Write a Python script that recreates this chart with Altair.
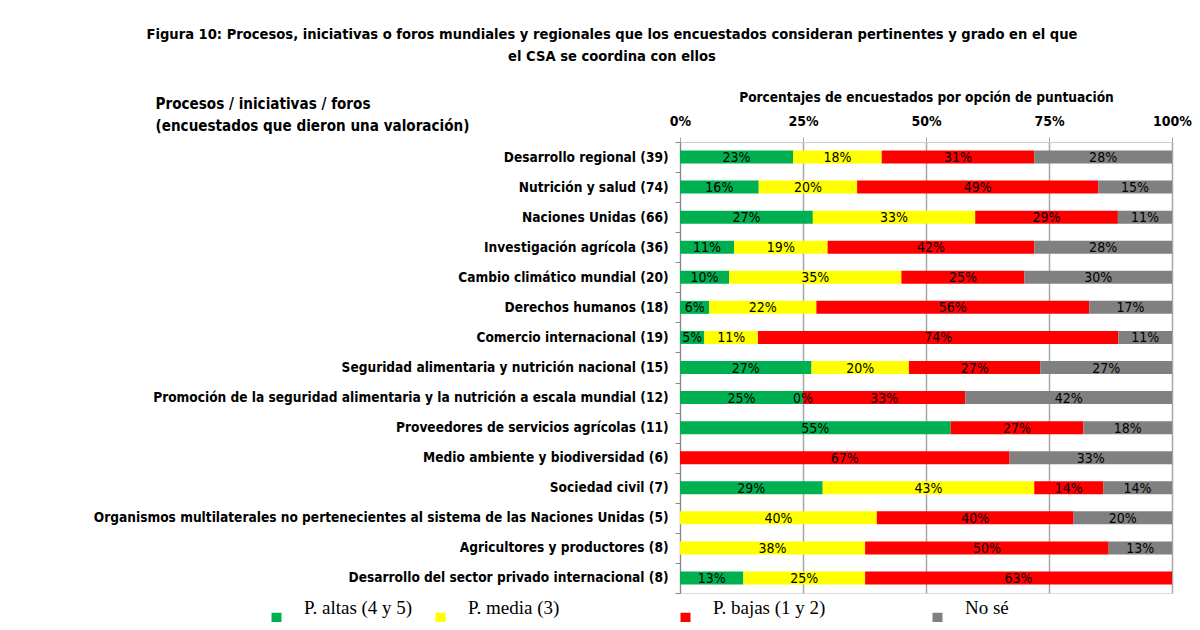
import altair as alt
import pandas as pd

categories = [
    "Desarrollo regional (39)",
    "Nutrición y salud (74)",
    "Naciones Unidas (66)",
    "Investigación agrícola (36)",
    "Cambio climático mundial (20)",
    "Derechos humanos (18)",
    "Comercio internacional (19)",
    "Seguridad alimentaria y nutrición nacional (15)",
    "Promoción de la seguridad alimentaria y la nutrición a escala mundial (12)",
    "Proveedores de servicios agrícolas (11)",
    "Medio ambiente y biodiversidad (6)",
    "Sociedad civil (7)",
    "Organismos multilaterales no pertenecientes al sistema de las Naciones Unidas (5)",
    "Agricultores y productores (8)",
    "Desarrollo del sector privado internacional (8)",
]
series = ["P. altas (4 y 5)", "P. media (3)", "P. bajas (1 y 2)", "No sé"]
altas = [23, 16, 27, 11, 10, 6, 5, 27, 25, 55, None, 29, None, None, 13]
media = [18, 20, 33, 19, 35, 22, 11, 20, 0, None, None, 43, 40, 38, 25]
bajas = [31, 49, 29, 42, 25, 56, 74, 27, 33, 27, 67, 14, 40, 50, 63]
nose = [28, 15, 11, 28, 30, 17, 11, 27, 42, 18, 33, 14, 20, 13, None]
colors = ["#00B050", "#FFFF00", "#FF0000", "#808080"]
x_ticks = [0, 0.25, 0.5, 0.75, 1]

title_lines = [
    "Figura 10: Procesos, iniciativas o foros mundiales y regionales que los encuestados consideran pertinentes y grado en el que",
    "el CSA se coordina con ellos",
]
y_title = ["Procesos / iniciativas / foros", "(encuestados que dieron una valoración)"]
x_title = "Porcentajes de encuestados por opción de puntuación"

rows = []
for i, c in enumerate(categories):
    for j, vals in enumerate([altas, media, bajas, nose]):
        v = vals[i]
        if v is None:
            continue
        rows.append({"cat": c, "serie": series[j], "orden": j, "valor": v})
df = pd.DataFrame(rows)

FONT = "DejaVu Sans Condensed, DejaVu Sans, sans-serif"

# trailing blank (invisible) characters only widen legend entries,
# to reproduce the uneven spacing of the original legend
BL = "\u2800"
legend_pad = [0, 7, 6, 0]
legend_names = [s + BL * k for s, k in zip(series, legend_pad)]
pad_expr = (
    "datum.orden == 1 ? datum.serie + '" + BL * legend_pad[1] + "' : "
    "datum.orden == 2 ? datum.serie + '" + BL * legend_pad[2] + "' : datum.serie"
)

base = (
    alt.Chart(df)
    .transform_joinaggregate(total="sum(valor)", groupby=["cat"])
    .transform_calculate(frac="datum.valor / datum.total")
    .transform_stack(
        stack="frac",
        as_=["x0", "x1"],
        groupby=["cat"],
        sort=[alt.SortField("orden", order="ascending")],
    )
    .transform_calculate(
        mid="(datum.x0 + datum.x1) / 2",
        etiqueta="datum.valor + '%'",
        serie_leyenda=pad_expr,
    )
)

y_enc = alt.Y(
    "cat:N",
    sort=categories,
    scale=alt.Scale(paddingInner=0, paddingOuter=0),
    axis=alt.Axis(
        title=y_title,
        titleAngle=0,
        titleAlign="left",
        titleBaseline="middle",
        titleX=-525,
        titleY=-39,
        titleFont=FONT,
        titleFontSize=15.1,
        titleFontWeight="bold",
        titleColor="black",
        titleLineHeight=22,
        labelFont=FONT,
        labelFontSize=13.6,
        labelFontWeight="bold",
        labelColor="black",
        labelPadding=7,
        labelLimit=700,
        tickBand="extent",
        tickSize=5,
        tickColor="#888888",
        domainColor="#888888",
        grid=False,
    ),
)

x_axis = alt.Axis(
    orient="top",
    values=x_ticks,
    format="%",
    title=x_title,
    titleFont=FONT,
    titleFontSize=13.6,
    titleFontWeight="bold",
    titleColor="black",
    titlePadding=10,
    labelFont=FONT,
    labelFontSize=14,
    labelFontWeight="bold",
    labelColor="black",
    labelFlush=False,
    labelPadding=9,
    grid=True,
    gridColor="#a6a6a6",
    gridWidth=1.5,
    tickColor="#a6a6a6",
    tickSize=5,
    domainColor="#cccccc",
)

bars = base.mark_bar(size=13).encode(
    y=y_enc,
    x=alt.X("x0:Q", scale=alt.Scale(domain=[0, 1], nice=False), axis=x_axis),
    x2="x1:Q",
    color=alt.Color(
        "serie_leyenda:N",
        scale=alt.Scale(domain=legend_names, range=colors),
        legend=alt.Legend(
            title=None,
            orient="none",
            legendX=-413,
            legendY=466,
            direction="horizontal",
            symbolType="square",
            symbolSize=100,
            symbolStrokeWidth=0,
            symbolOpacity=1,
            labelFont="Liberation Serif, Times New Roman, serif",
            labelFontSize=19,
            labelColor="black",
            labelBaseline="bottom",
            labelOffset=18,
            labelLimit=400,
            columnPadding=18,
        ),
    ),
)

labels = base.mark_text(font=FONT, fontSize=14, color="black", dy=1).encode(
    y=alt.Y("cat:N", sort=categories),
    x=alt.X("mid:Q"),
    text="etiqueta:N",
)

chart = (
    alt.layer(bars, labels)
    .properties(
        width=492,
        height=451,
        autosize=alt.AutoSizeParams(type="none"),
        padding={"left": 672, "top": 134, "right": 20, "bottom": 29},
        title=alt.TitleParams(
            text=title_lines,
            anchor="middle",
            frame="group",
            dx=-314,
            offset=26,
            font=FONT,
            fontSize=14.6,
            fontWeight="bold",
            color="black",
            lineHeight=22,
        ),
    )
    .configure_view(stroke=None)
    .configure(background="white")
)

chart.save("out.html", embed_options={"renderer": "svg", "actions": False})
